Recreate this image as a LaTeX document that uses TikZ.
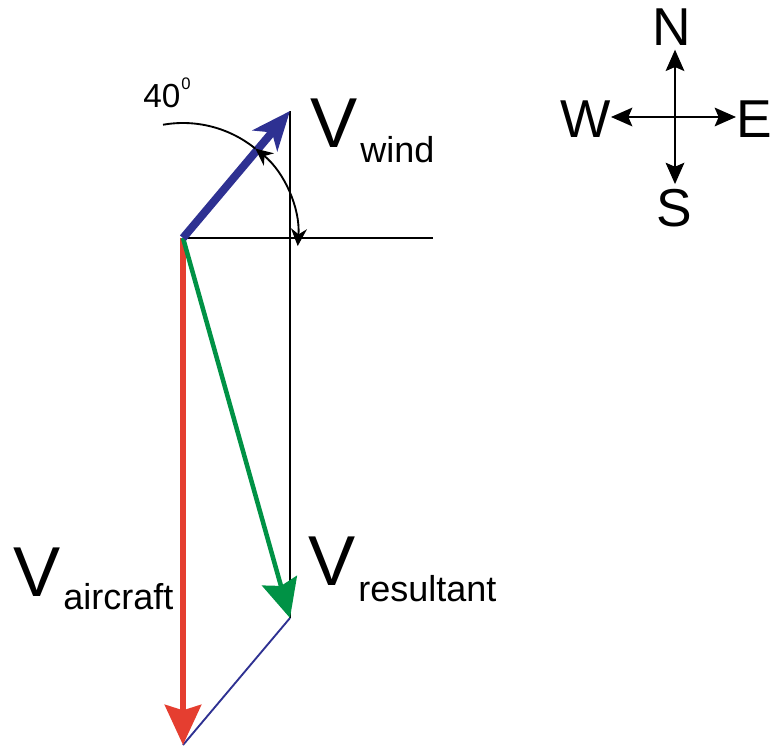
\documentclass[tikz,border=0pt]{standalone}
\usepackage{fontspec}
\setmainfont{Liberation Sans}
\usetikzlibrary{arrows.meta,calc}

\definecolor{blu}{RGB}{46,49,146}
\definecolor{verde}{RGB}{0,146,69}
\definecolor{rosso}{RGB}{229,62,48}

\begin{document}
\begin{tikzpicture}[
    x=0.75pt, y=0.75pt,   % 1 unita' = 1 pixel del riferimento
    asse/.style={draw=black, line width=1.3pt},
    arco/.style={draw=black, line width=1.4pt},
    chiusura/.style={draw=blu, line width=1.4pt},
    vento/.style={-{Stealth[length=29pt, width=24pt, inset=8pt]}, blu, line width=6pt},
    aereo/.style={-{Stealth[length=30pt, width=27pt, inset=4pt]}, rosso, line width=5pt},
    risultante/.style={-{Stealth[length=29pt, width=27pt, inset=4pt]}, verde, line width=3.4pt},
    bussola/.style={-{Stealth[length=16pt, width=14pt, inset=3pt]}, black, line width=1.5pt},
    grande/.style={font=\fontsize{53}{53}\selectfont, inner sep=0pt, text=black},
    pedice/.style={font=\fontsize{27}{27}\selectfont, inner sep=0pt, text=black},
    cardinale/.style={font=\fontsize{40}{40}\selectfont, inner sep=0pt, outer sep=0pt, text=black}
]

    \useasboundingbox (0,0) rectangle (770,-746);

    % =========================================================================
    % 1. TRIANGOLO DELLE VELOCITA'
    % =========================================================================

    % Punti notevoli
    \coordinate (O) at (183,-238);
    \coordinate (Vw) at (290,-111);
    \coordinate (Vr) at (290,-618);
    \coordinate (Va) at (183,-745);
    \coordinate (H) at (433,-238);

    % Linee di riferimento (sotto i vettori)
    \draw[asse] (O) -- (H);
    \draw[asse] (Vw) -- (Vr);

    % Chiusura del triangolo
    \draw[chiusura] (Vr) -- (Va);

    % Vettori
    \draw[aereo] (O) -- (Va);
    \draw[risultante] (O) -- (Vr);
    \draw[vento] (O) -- (Vw);

    % Angolo del vento (sopra il vettore blu)
    \draw[arco] ($(O)+(100:115)$) arc[start angle=100, end angle=51, radius=115];
    \draw[arco, {Stealth[length=13pt, width=12pt]}-{Stealth[length=13pt, width=12pt]}]
        ($(O)+(51:115)$) arc[start angle=51, end angle=-4, radius=115];

    % Etichette
    \node[font=\fontsize{25}{25}\selectfont, inner sep=0pt, anchor=base west] (ang) at (143,-107) {40};
    \node[font=\fontsize{12.5}{12.5}\selectfont, inner sep=0pt, anchor=base west] (angsup) at (181,-89) {0};

    \node[grande, anchor=base west] (Vwt) at (310,-147) {V};
    \node[pedice, anchor=base west] (Vws) at (360,-162) {wind};

    \node[grande, anchor=base west] (Vat) at (13,-596) {V};
    \node[pedice, anchor=base west] (Vas) at (63,-609) {aircraft};

    \node[grande, anchor=base west] (Vrt) at (308,-585) {V};
    \node[pedice, anchor=base west] (Vrs) at (358,-601) {resultant};

    % =========================================================================
    % 2. ROSA DEI VENTI
    % =========================================================================
    \coordinate (C) at (675,-117);

    \node[cardinale, anchor=base] (N) at (672,-45) {N};
    \node[cardinale, anchor=base] (S) at (674,-226) {S};
    \node[cardinale, anchor=base east] (W) at (611,-137) {W};
    \node[cardinale, anchor=base west] (E) at (736,-137) {E};

    \draw[bussola, shorten >=3.5pt] (C) -- (C |- N.south);
    \draw[bussola, shorten >=3.5pt] (C) -- (C |- S.north);
    \draw[bussola] (C) -- (C -| W.east);
    \draw[bussola] (C) -- (C -| E.west);

\end{tikzpicture}
\end{document}
